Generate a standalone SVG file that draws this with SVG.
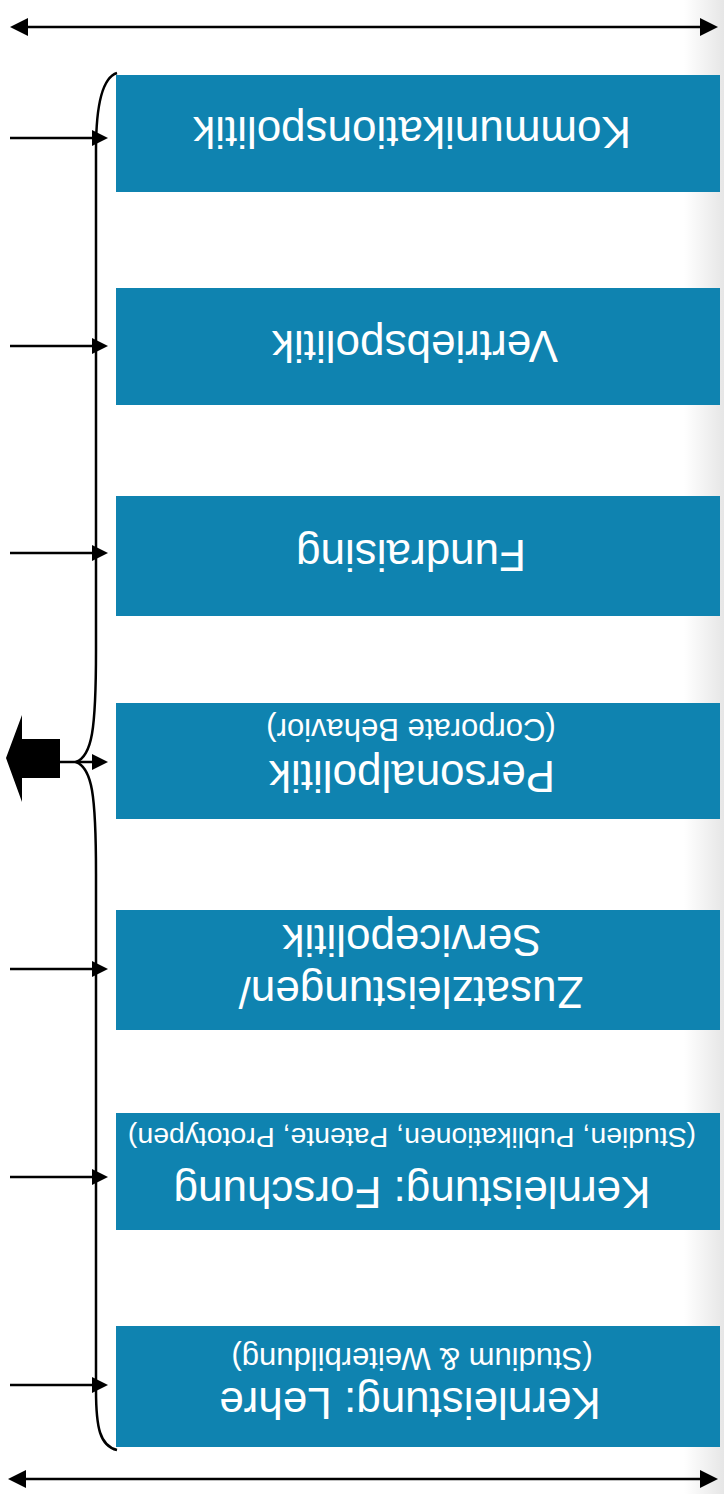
<svg xmlns="http://www.w3.org/2000/svg" width="724" height="1494" viewBox="0 0 724 1494">
<defs>
<linearGradient id="shade" x1="0" y1="0" x2="1" y2="0">
<stop offset="0" stop-color="#ffffff"/>
<stop offset="1" stop-color="#e6e6e6"/>
</linearGradient>
<marker id="ah" viewBox="0 0 16 16" refX="0" refY="8" markerWidth="16" markerHeight="16" markerUnits="userSpaceOnUse" orient="auto-start-reverse">
<path d="M0,0 L16,8 L0,16 Z" fill="#000"/>
</marker>
<marker id="ah2" viewBox="0 0 18 18" refX="0" refY="9" markerWidth="18" markerHeight="18" markerUnits="userSpaceOnUse" orient="auto-start-reverse">
<path d="M0,0 L18,9 L0,18 Z" fill="#000"/>
</marker>
</defs>
<style>
.box{fill:#0f83b0;}
.t{font-family:"Liberation Sans",Arial,sans-serif;fill:#fff;text-anchor:middle;}
.big{font-size:44px;}
.small{font-size:31px;}
.ln{stroke:#000;stroke-width:2.5;fill:none;}
</style>
<rect x="0" y="0" width="724" height="1494" fill="#fff"/>
<rect x="684" y="0" width="40" height="1494" fill="url(#shade)"/>

<g id="n1">
<rect class="box" x="116" y="75" width="604" height="117"/>
<text class="t big" x="412" y="117" transform="rotate(180 412 117)">Kommunikationspolitik</text>
</g>
<g id="n2">
<rect class="box" x="116" y="288" width="604" height="117"/>
<text class="t big" x="415" y="331" transform="rotate(180 415 331)">Vertriebspolitik</text>
</g>
<g id="n3">
<rect class="box" x="116" y="496" width="604" height="120"/>
<text class="t big" x="411" y="540" transform="rotate(180 411 540)">Fundraising</text>
</g>
<g id="n4">
<rect class="box" x="116" y="703" width="604" height="116"/>
<text class="t big" x="412" y="761" transform="rotate(180 412 761)">Personalpolitik</text>
<text class="t small" x="411" y="719" transform="rotate(180 411 719)">(Corporate Behavior)</text>
</g>
<g id="n5">
<rect class="box" x="116" y="910" width="604" height="120"/>
<text class="t big" x="411" y="977" transform="rotate(180 411 977)">Zusatzleistungen/</text>
<text class="t big" x="412" y="925" transform="rotate(180 412 925)">Servicepolitik</text>
</g>
<g id="n6">
<rect class="box" x="116" y="1113" width="604" height="117"/>
<text class="t big" x="412" y="1177" transform="rotate(180 412 1177)">Kernleistung: Forschung</text>
<text class="t" style="font-size:28.4px" x="412" y="1128" transform="rotate(180 412 1128)">(Studien, Publikationen, Patente, Prototypen)</text>
</g>
<g id="n7">
<rect class="box" x="116" y="1326" width="604" height="121"/>
<text class="t big" x="410" y="1388" transform="rotate(180 410 1388)">Kernleistung: Lehre</text>
<text class="t small" x="412" y="1348" transform="rotate(180 412 1348)">(Studium &amp; Weiterbildung)</text>
</g>

<g id="connectors">
<line class="ln" x1="28" y1="27" x2="700" y2="27" marker-start="url(#ah2)" marker-end="url(#ah2)"/>
<line class="ln" x1="26" y1="1479" x2="700" y2="1479" marker-start="url(#ah2)" marker-end="url(#ah2)"/>
<path class="ln" d="M117,73 C101,78 96,110 96,150 L96,650 C96,730 92,756 76,762 C92,768 96,794 96,874 L96,1390 C96,1428 100,1446 117,1450"/>
<line class="ln" x1="10" y1="138" x2="92" y2="138" marker-end="url(#ah)"/>
<line class="ln" x1="10" y1="346" x2="92" y2="346" marker-end="url(#ah)"/>
<line class="ln" x1="10" y1="553" x2="92" y2="553" marker-end="url(#ah)"/>
<line class="ln" x1="58" y1="762" x2="92" y2="762" marker-end="url(#ah)"/>
<line class="ln" x1="10" y1="969" x2="92" y2="969" marker-end="url(#ah)"/>
<line class="ln" x1="10" y1="1177" x2="92" y2="1177" marker-end="url(#ah)"/>
<line class="ln" x1="10" y1="1385" x2="92" y2="1385" marker-end="url(#ah)"/>
<polygon points="6,758 22,715 22,739 60,739 60,778 22,778 22,802" fill="#000"/>
</g>
</svg>
